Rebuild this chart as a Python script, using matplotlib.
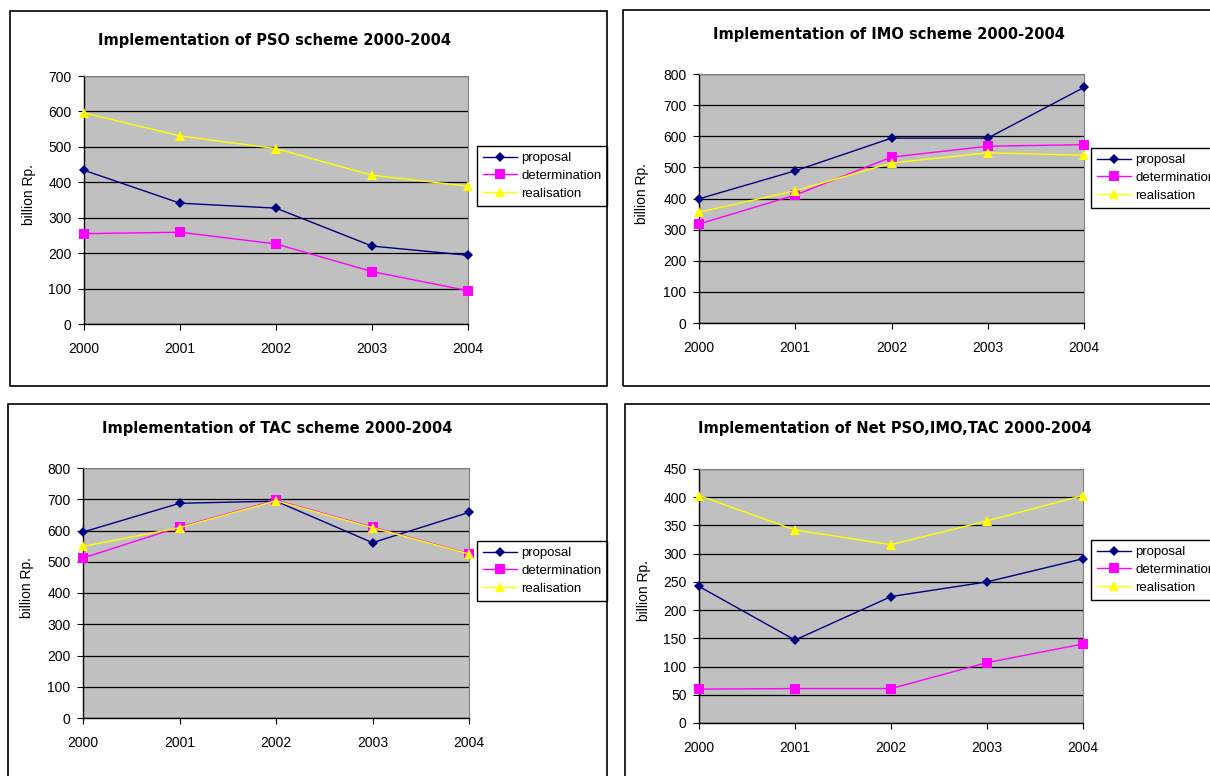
import matplotlib
matplotlib.use("Agg")
import matplotlib.pyplot as plt
from matplotlib.patches import Rectangle

W, H = 1210, 776

years = [2000, 2001, 2002, 2003, 2004]
series_names = ["proposal", "determination", "realisation"]

# PSO scheme
pso_proposal = [434, 341, 327, 220, 194]
pso_determination = [255, 259, 226, 148, 94]
pso_realisation = [596, 531, 495, 420, 389]

# IMO scheme
imo_proposal = [399, 489, 594, 594, 757]
imo_determination = [318, 411, 533, 568, 573]
imo_realisation = [356, 425, 514, 547, 539]

# TAC scheme
tac_proposal = [595, 687, 694, 561, 658]
tac_determination = [512, 611, 697, 611, 526]
tac_realisation = [549, 609, 695, 609, 525]

# Net PSO, IMO, TAC
net_proposal = [242, 147, 224, 250, 291]
net_determination = [60, 61, 61, 107, 140]
net_realisation = [403, 342, 316, 358, 403]

STYLES = [
    dict(color="#000080", marker="D", markersize=5),
    dict(color="#FF00FF", marker="s", markersize=6.5),
    dict(color="#FFFF00", marker="^", markersize=7),
]


def fx(px):
    return px / W


def fy(py):
    return 1 - py / H


def draw_panel(fig, box, plot, legend_xy, title, title_xy, ymax, ystep, data):
    bx0, by0, bx1, by1 = box
    fig.patches.append(Rectangle(
        (fx(bx0), fy(by1)), fx(bx1) - fx(bx0), fy(by0) - fy(by1),
        transform=fig.transFigure, fill=False, edgecolor="black",
        linewidth=1.2, zorder=0,
    ))

    x0, y0, x1, y1 = plot
    ax = fig.add_axes([fx(x0), fy(y1), fx(x1) - fx(x0), fy(y0) - fy(y1)])
    ax.set_facecolor("#C0C0C0")

    for values, name, st in zip(data, series_names, STYLES):
        ax.plot(years, values, linewidth=1.0, label=name,
                markeredgewidth=0, clip_on=False, zorder=3, **st)

    ax.set_xlim(years[0], years[-1])
    ax.set_ylim(0, ymax)
    ax.set_xticks(years)
    ax.set_yticks(range(0, ymax + 1, ystep))
    ax.yaxis.grid(True, color="black", linewidth=0.9)
    ax.set_axisbelow(True)
    ax.tick_params(axis="both", direction="out", length=4, width=0.8,
                   labelsize=10, colors="black")
    ax.tick_params(axis="x", pad=9)
    ax.tick_params(axis="y", pad=5)
    for lab in ax.get_xticklabels() + ax.get_yticklabels():
        lab.set_family("Liberation Sans")

    for side in ("top", "right"):
        ax.spines[side].set_color("#808080")
        ax.spines[side].set_linewidth(0.8)
    for side in ("left", "bottom"):
        ax.spines[side].set_color("black")
        ax.spines[side].set_linewidth(1.0)

    ax.set_ylabel("billion Rp.", fontsize=10, family="Liberation Sans")
    ax.yaxis.set_label_coords((bx0 + 26 - x0) / (x1 - x0), 0.52)

    fig.text(fx(title_xy[0]), fy(title_xy[1]), title, ha="center", va="center",
             fontsize=10.5, fontweight="bold", family="DejaVu Sans")

    leg = ax.legend(loc="upper left", bbox_to_anchor=(fx(legend_xy[0]), fy(legend_xy[1])),
                    bbox_transform=fig.transFigure, borderaxespad=0,
                    fancybox=False, framealpha=1, edgecolor="black",
                    prop={"family": "Liberation Sans", "size": 9.5},
                    handlelength=2.6, handletextpad=0.3, labelspacing=0.42,
                    borderpad=0.45)
    leg.get_frame().set_linewidth(1.0)


fig = plt.figure(figsize=(W / 100, H / 100), dpi=100)

draw_panel(fig, (10, 11, 607, 386), (84, 76, 468, 324), (477, 146),
           "Implementation of PSO scheme 2000-2004", (274, 41), 700, 100,
           [pso_proposal, pso_determination, pso_realisation])
draw_panel(fig, (623, 10, 1240, 386), (699, 74, 1084, 323), (1091, 148),
           "Implementation of IMO scheme 2000-2004", (889, 35), 800, 100,
           [imo_proposal, imo_determination, imo_realisation])
draw_panel(fig, (8, 404, 607, 800), (83, 468, 469, 718), (477, 541),
           "Implementation of TAC scheme 2000-2004", (277, 429), 800, 100,
           [tac_proposal, tac_determination, tac_realisation])
draw_panel(fig, (625, 404, 1240, 800), (699, 469, 1083, 723), (1091, 540),
           "Implementation of Net PSO,IMO,TAC 2000-2004", (895, 429), 450, 50,
           [net_proposal, net_determination, net_realisation])

fig.savefig("out.png", dpi=100, facecolor="white")
